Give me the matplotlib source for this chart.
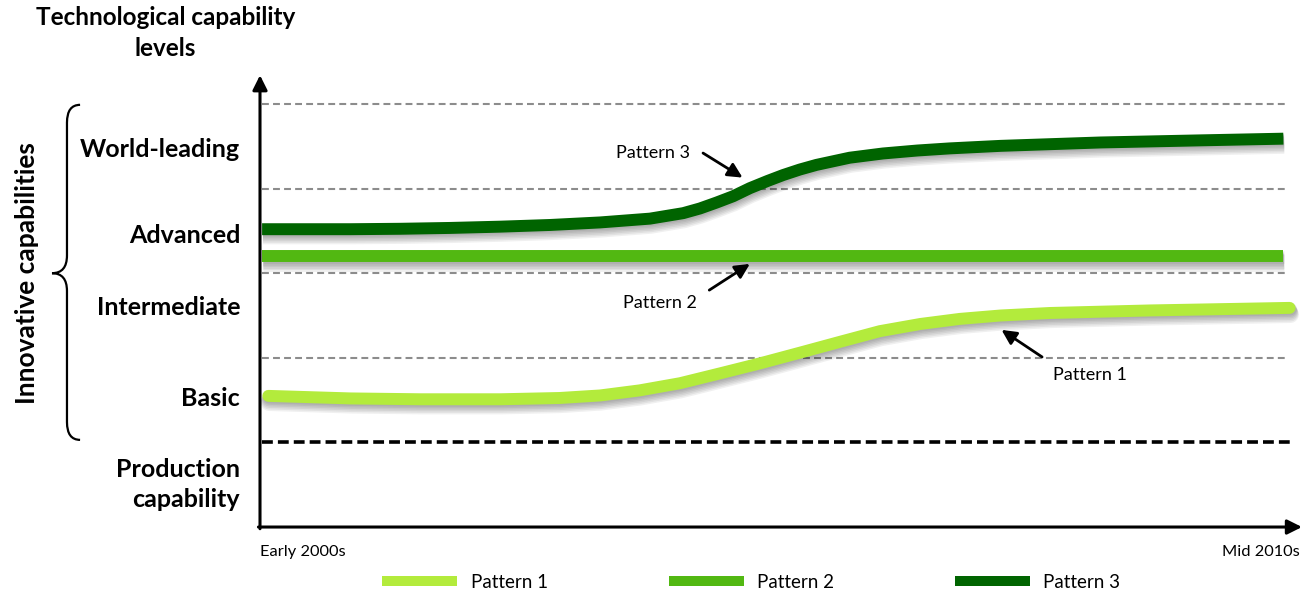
import matplotlib
matplotlib.use('Agg')
import matplotlib.pyplot as plt
import matplotlib.patheffects as pe
from matplotlib.path import Path
from matplotlib.patches import PathPatch
from matplotlib.lines import Line2D

plt.rcParams['font.family'] = ['Lato', 'DejaVu Sans']

# time runs from 0 (early 2000s) to 1 (mid 2010s); levels are 1 unit apart
levels = ['World-leading', 'Advanced', 'Intermediate', 'Basic', 'Production\ncapability']
level_pos = [4.46, 3.45, 2.60, 1.52, 0.50]
bands = [2, 3, 4, 5]          # grey dashed borders between levels
production_border = 1

p1_t = [0.008, 0.087, 0.154, 0.231, 0.288, 0.327, 0.365, 0.404, 0.442, 0.481, 0.519, 0.558,
        0.596, 0.635, 0.673, 0.712, 0.760, 0.856, 0.990]
p1_y = [1.55, 1.52, 1.51, 1.51, 1.525, 1.555, 1.615, 1.70, 1.815, 1.935, 2.06, 2.19,
        2.315, 2.40, 2.46, 2.50, 2.53, 2.56, 2.59]

p2_t = [0.002, 0.984]
p2_y = [3.20, 3.20]

p3_t = [0.002, 0.087, 0.135, 0.183, 0.231, 0.279, 0.327, 0.375, 0.407, 0.423, 0.439, 0.455,
        0.471, 0.488, 0.503, 0.519, 0.535, 0.567, 0.599, 0.632, 0.663, 0.712, 0.808, 0.904, 0.984]
p3_y = [3.52, 3.52, 3.525, 3.535, 3.55, 3.57, 3.60, 3.645, 3.71, 3.765, 3.835, 3.91,
        4.005, 4.09, 4.16, 4.225, 4.28, 4.365, 4.415, 4.45, 4.475, 4.505, 4.545, 4.57, 4.59]

names = ['Pattern 1', 'Pattern 2', 'Pattern 3']
colors = ['#b3eb3c', '#52b812', '#006400']

# (text position, arrow tail, arrow tip)
callouts = [
    ((0.798, 1.80), (0.752, 2.01), (0.713, 2.33)),
    ((0.385, 2.65), (0.432, 2.80), (0.471, 3.11)),
    ((0.378, 4.42), (0.426, 4.42), (0.464, 4.13)),
]

fig = plt.figure(figsize=(13.04, 5.97), dpi=100)
ax = fig.add_axes([0, 0, 1, 1])
ax.set_xlim(-0.25, 1.00385)
ax.set_ylim(-0.827, 6.229)
ax.axis('off')


def shadow(lw):
    fx = [pe.SimpleLineShadow(offset=(0.6, -0.8 * k), shadow_color='k', alpha=0.06,
                              linewidth=lw + 0.6 * k) for k in range(1, 7)]
    return fx + [pe.Normal()]


# level borders
for b in bands:
    ax.plot([0.002, 0.986], [b, b], color='#8c8c8c', lw=1.5, dashes=(3.3, 2), zorder=1)
ax.plot([0.002, 0.99], [production_border] * 2, color='k', lw=2.6, dashes=(3.0, 1.4), zorder=1)

# patterns
lw = 8.6
caps = ['round', 'butt', 'butt']
for t, y, c, cap in zip([p1_t, p2_t, p3_t], [p1_y, p2_y, p3_y], colors, caps):
    ax.plot(t, y, color=c, lw=lw, solid_capstyle=cap, solid_joinstyle='round',
            path_effects=shadow(lw), zorder=3)

# axes with arrow heads
arrow = dict(arrowstyle='-|>', lw=2.2, color='k', mutation_scale=22, shrinkA=0, shrinkB=0)
ax.annotate('', xy=(0, 5.34), xytext=(0, -0.02), arrowprops=arrow, zorder=4)
ax.annotate('', xy=(1.0019, 0), xytext=(-0.0015, 0), arrowprops=arrow, zorder=4)

# level labels
for name, y in zip(levels, level_pos):
    ax.text(-0.019, y, name, ha='right', va='center', fontsize=18, fontweight='bold',
            linespacing=1.35)

ax.text(-0.091, 5.84, 'Technological capability\nlevels', ha='center', va='center',
        fontsize=17.5, fontweight='bold', linespacing=1.4)

ax.text(0.0, -0.30, 'Early 2000s', ha='left', va='center', fontsize=11.8)
ax.text(1.0, -0.30, 'Mid 2010s', ha='right', va='center', fontsize=11.8)

# brace around the innovative levels
xr, xm, xl = -0.173, -0.1856, -0.2
yt, ymid, yb, ry = 4.99, 3.0, 1.03, 0.21
verts = [(xr, yt), (xm, yt), (xm, yt - ry),
         (xm, ymid + ry), (xm, ymid), (xl, ymid),
         (xm, ymid), (xm, ymid - ry),
         (xm, yb + ry), (xm, yb), (xr, yb)]
codes = [Path.MOVETO, Path.CURVE3, Path.CURVE3,
         Path.LINETO, Path.CURVE3, Path.CURVE3,
         Path.CURVE3, Path.CURVE3,
         Path.LINETO, Path.CURVE3, Path.CURVE3]
ax.add_patch(PathPatch(Path(verts, codes), fill=False, lw=1.6, color='k'))
ax.text(-0.224, 3.0, 'Innovative capabilities', rotation=90, ha='center', va='center',
        fontsize=19, fontweight='bold')

# callouts
for name, txt, tail, tip in zip(names, *zip(*callouts)):
    ax.text(txt[0], txt[1], name, ha='center', va='center', fontsize=13)
    ax.annotate('', xy=tip, xytext=tail,
                arrowprops=dict(arrowstyle='-|>', lw=2.0, color='k', mutation_scale=22,
                                shrinkA=0, shrinkB=0))

handles = [Line2D([], [], color=c, lw=7.2, solid_capstyle='butt') for c in colors]
fig.legend(handles, names, loc='center', bbox_to_anchor=(0.576, 0.025), ncol=3,
           frameon=False, fontsize=13.5, handlelength=4.0, handletextpad=0.7,
           columnspacing=6.45)

fig.savefig('out.png', dpi=100)
